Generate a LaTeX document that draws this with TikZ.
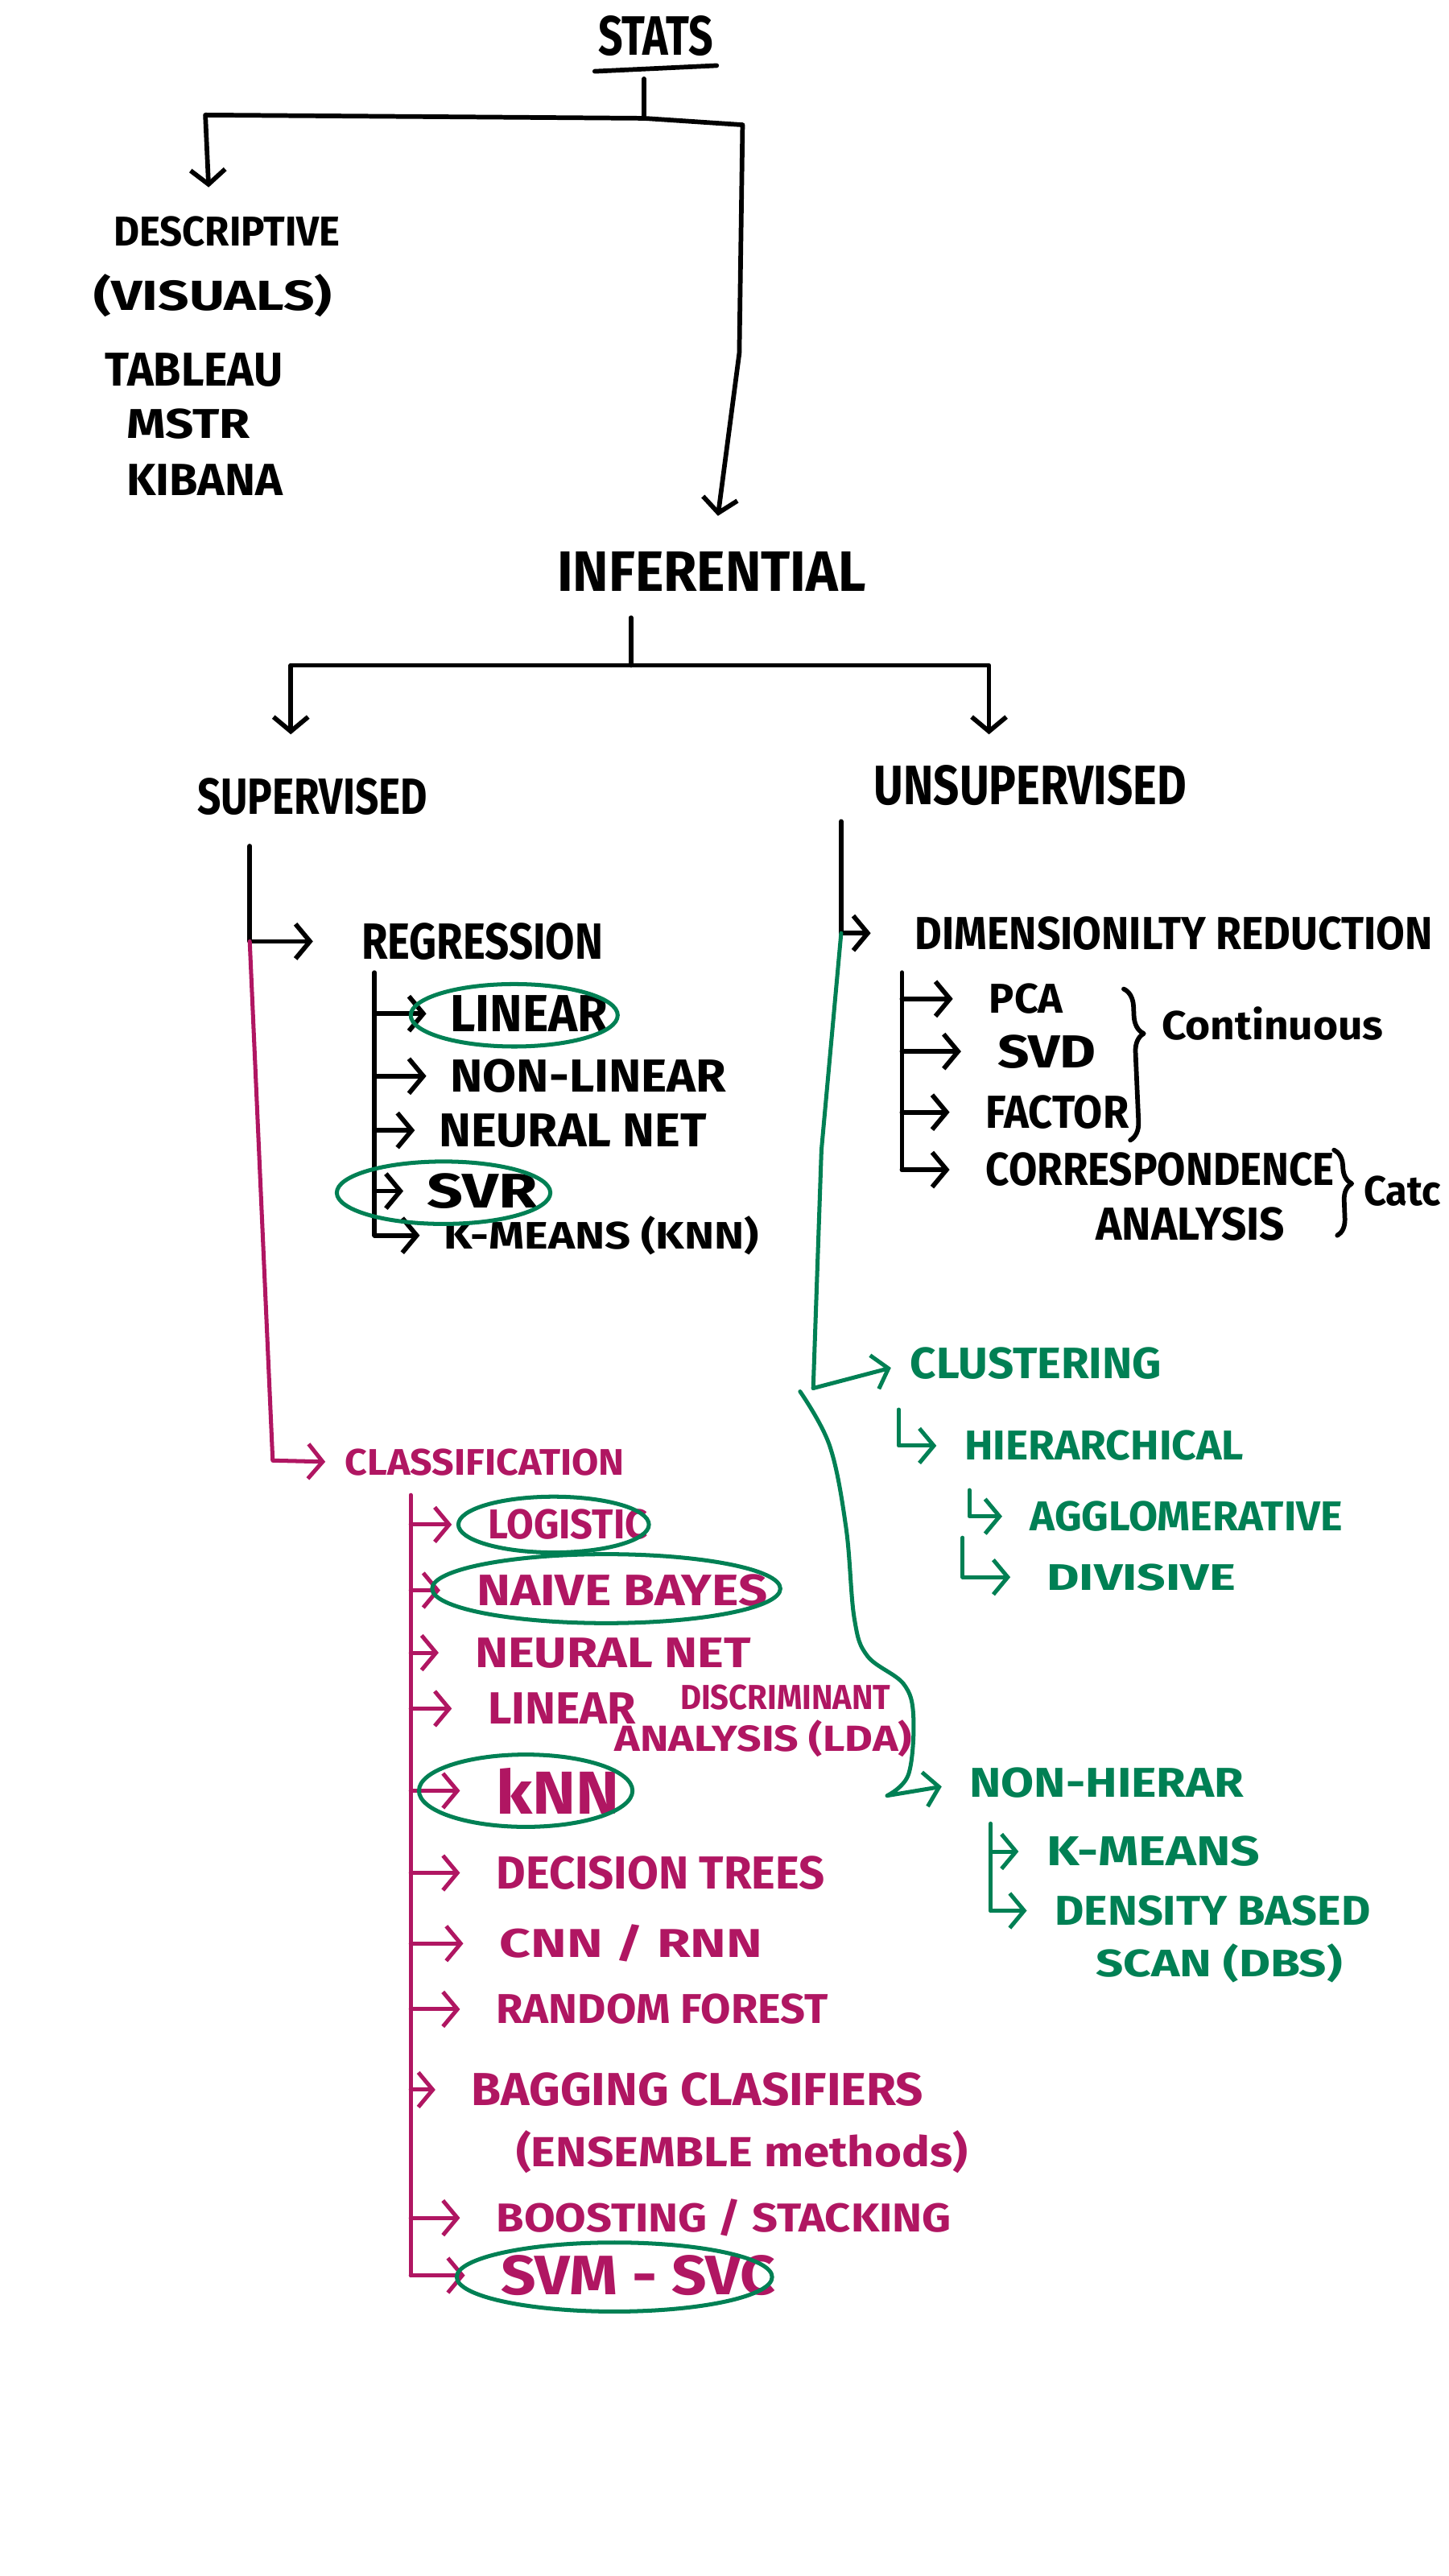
\documentclass[tikz,border=0pt]{standalone}
\usepackage{fontspec}
\setmainfont{Fira Sans}
\usetikzlibrary{arrows.meta,decorations.pathreplacing,calc}
\definecolor{magc}{RGB}{176,22,98}
\definecolor{grnc}{RGB}{0,128,84}
\newlength\pxu
\setlength\pxu{0.02cm}
\newcommand\hw[3]{\resizebox{#1\pxu}{#2\pxu}{#3}}
\begin{document}
\begin{tikzpicture}[x=0.02cm,y=-0.02cm,
 lbl/.style={anchor=west,inner sep=1pt,font=\bfseries},
 mlbl/.style={lbl,text=magc},
 glbl/.style={lbl,text=grnc},
 blk/.style={draw=black,line width=1.6pt,line cap=round,line join=round},
 mag/.style={draw=magc,line width=1.4pt,line cap=round,line join=round},
 grn/.style={draw=grnc,line width=1.4pt,line cap=round,line join=round},
 hand/.style={-{Straight Barb[length=5pt,width=12pt]}}]
\fill[white] (0,0) rectangle (882,1568);
\useasboundingbox (0,0) rectangle (882,1568);

% ---------- top ----------
\node[lbl] (stats) at (362,22) {\hw{70}{24}{STATS}};
\draw[blk] ([yshift=-4pt]stats.south west) -- ([yshift=-2pt]stats.south east);
\coordinate (stem) at (392,48);
\coordinate (sj) at (392,72);
\coordinate (dtip) at (127,114);
\coordinate (itip) at (437,314);
\draw[blk] (stem) -- (sj);
\draw[blk,hand] (sj) -- (125,70) -- (dtip);
\draw[blk,hand] (sj) -- (452,76) -- (450,215) -- (itip);

\node[lbl] (desc) at (67,141) {\hw{138}{18}{DESCRIPTIVE}};
\node[lbl] (vis) at (55,180) {\hw{145}{22}{(VISUALS)}};
\node[lbl] (tab) at (62,225) {\hw{108}{20}{TABLEAU}};
\node[lbl] (mstr) at (75,258) {\hw{75}{18}{MSTR}};
\node[lbl] (kib) at (75,292) {\hw{95}{19}{KIBANA}};

\node[lbl] (inf) at (337,348) {\hw{188}{24}{INFERENTIAL}};
\coordinate (istem) at (384,376);
\coordinate (ij) at (384,405);
\coordinate (stip) at (177,447);
\coordinate (utip) at (602,447);
\draw[blk] (istem) -- (ij);
\draw[blk,hand] (ij) -| (stip);
\draw[blk,hand] (ij) -| (utip);

\node[lbl] (sup) at (118,485) {\hw{140}{22}{SUPERVISED}};
\node[lbl] (unsup) at (530,478) {\hw{190}{24}{UNSUPERVISED}};

% ---------- supervised / regression ----------
\coordinate (ss) at (152,515);
\node[lbl] (reg) at (218,573) {\hw{147}{22}{REGRESSION}};
\draw[blk,hand,shorten >=0.55cm] (ss) |- (reg.west);

\node[lbl] (rlin) at (272,617) {\hw{96}{22}{LINEAR}};
\node[lbl] (rnonlin) at (272,655) {\hw{168}{20}{NON-LINEAR}};
\node[lbl] (rnn) at (265,688) {\hw{163}{20}{NEURAL NET}};
\node[lbl] (svr) at (258,725) {\hw{67}{21}{SVR}};
\node[lbl] (rkm) at (268,752) {\hw{192}{20}{K-MEANS (KNN)}};
\coordinate (rs) at (228,592);
\draw[blk] (rs) -- (rs |- rkm.west);
\foreach \n in {rlin,rnonlin,rnn,svr,rkm}{\draw[blk,hand,shorten >=0.25cm] (rs |- \n.west) -- (\n.west);}
\draw[grn] (313,618) ellipse [x radius=1.26cm, y radius=0.38cm];
\draw[grn] (270,726) ellipse [x radius=1.3cm, y radius=0.38cm];

% ---------- unsupervised / dimensionality ----------
\coordinate (us) at (512,500);
\node[lbl] (dim) at (555,568) {\hw{315}{20}{DIMENSIONILTY REDUCTION}};
\draw[blk,hand,shorten >=0.5cm] (us) |- (dim.west);

\node[lbl] (pca) at (600,608) {\hw{45}{18}{PCA}};
\node[lbl] (svd) at (605,640) {\hw{60}{20}{SVD}};
\node[lbl] (factor) at (598,677) {\hw{87}{20}{FACTOR}};
\node[lbl] (corr) at (598,712) {\hw{212}{20}{CORRESPONDENCE}};
\node[lbl] (anal) at (665,745) {\hw{115}{20}{ANALYSIS}};
\coordinate (ds) at (549,592);
\draw[blk] (ds) -- (ds |- corr.west);
\foreach \n in {pca,svd,factor,corr}{\draw[blk,hand,shorten >=0.4cm] (ds |- \n.west) -- (\n.west);}
\draw[blk,decorate,decoration={brace,amplitude=0.22cm,aspect=0.3}] (684,602) -- (688,694);
\draw[blk,decorate,decoration={brace,amplitude=0.2cm,aspect=0.4}] (812,700) -- (814,752);
\node[lbl] (cont) at (705,623) {\hw{135}{20}{Continuous}};
\node[lbl] (catc) at (828,725) {\hw{47}{18}{Catc}};

% ---------- clustering (green) ----------
\coordinate (gb) at (495,845);
\draw[grn] (us |- dim.west) -- (500,700) -- (gb);
\node[glbl] (clust) at (552,830) {\hw{153}{19}{CLUSTERING}};
\draw[grn,hand,shorten >=0.2cm] (gb) -- (clust.west);

\node[glbl] (hier) at (585,880) {\hw{170}{18}{HIERARCHICAL}};
\node[glbl] (agg) at (625,923) {\hw{190}{18}{AGGLOMERATIVE}};
\node[glbl] (div) at (635,960) {\hw{115}{16}{DIVISIVE}};
\coordinate (cs) at (547,858);
\coordinate (hs1) at (590,907);
\coordinate (hs2) at (586,936);
\draw[grn,hand,shorten >=0.3cm] (cs) |- (hier.west);
\draw[grn,hand,shorten >=0.3cm] (hs1) |- (agg.west);
\draw[grn,hand,shorten >=0.4cm] (hs2) |- (div.west);

\node[glbl] (nonh) at (588,1085) {\hw{167}{18}{NON-HIERAR}};
\coordinate (gc) at (487,847);
\draw[grn,hand,shorten >=0.3cm] plot[smooth,tension=0.6] coordinates {(gc) (505,880) (515,930) (520,985) (528,1008) (550,1025) (556,1045) (553,1080) (540,1093)} -- (nonh.west);

\node[glbl] (km) at (635,1127) {\hw{130}{18}{K-MEANS}};
\node[glbl] (dens) at (640,1163) {\hw{192}{18}{DENSITY BASED}};
\node[glbl] (scan) at (665,1195) {\hw{150}{20}{SCAN (DBS)}};
\coordinate (ns) at (603,1110);
\draw[grn] (ns) -- (ns |- dens.west);
\foreach \n in {km,dens}{\draw[grn,hand,shorten >=0.3cm] (ns |- \n.west) -- (\n.west);}

% ---------- classification (magenta) ----------
\node[mlbl] (cls) at (208,890) {\hw{170}{16}{CLASSIFICATION}};
\draw[mag,hand,shorten >=0.2cm] (ss |- reg.west) -- (166,889) -- (cls.west);

\node[mlbl] (log) at (295,928) {\hw{97}{18}{LOGISTIC}};
\node[mlbl] (nb) at (288,968) {\hw{177}{19}{NAIVE BAYES}};
\node[mlbl] (mnn) at (287,1006) {\hw{168}{18}{NEURAL NET}};
\node[mlbl] (lin) at (295,1040) {\hw{90}{19}{LINEAR}};
\node[mlbl] (disc) at (412,1033) {\hw{128}{15}{DISCRIMINANT}};
\node[mlbl] (lda) at (372,1058) {\hw{181}{19}{ANALYSIS (LDA)}};
\node[mlbl] (knn) at (300,1090) {\hw{75}{28}{kNN}};
\node[mlbl] (dt) at (300,1140) {\hw{200}{20}{DECISION TREES}};
\node[mlbl] (cnn) at (302,1183) {\hw{160}{20}{CNN / RNN}};
\node[mlbl] (rf) at (300,1223) {\hw{202}{18}{RANDOM FOREST}};
\node[mlbl] (bag) at (285,1272) {\hw{275}{20}{BAGGING CLASIFIERS}};
\node[mlbl] (ens) at (312,1310) {\hw{275}{22}{(ENSEMBLE methods)}};
\node[mlbl] (boost) at (300,1350) {\hw{277}{20}{BOOSTING / STACKING}};
\node[mlbl] (svm) at (303,1385) {\hw{167}{24}{SVM - SVC}};
\coordinate (ms) at (250,910);
\draw[mag] (ms) -- (ms |- svm.west);
\foreach \n in {log,nb,mnn,lin,knn,dt,cnn,rf,bag,boost,svm}{\draw[mag,hand,shorten >=0.4cm] (ms |- \n.west) -- (\n.west);}
\draw[grn] (337,928) ellipse [x radius=1.16cm, y radius=0.34cm];
\draw[grn] (369,967) ellipse [x radius=2.12cm, y radius=0.42cm];
\draw[grn] (320,1090) ellipse [x radius=1.3cm, y radius=0.44cm];
\draw[grn] (374,1386) ellipse [x radius=1.92cm, y radius=0.42cm];
\end{tikzpicture}
\end{document}
